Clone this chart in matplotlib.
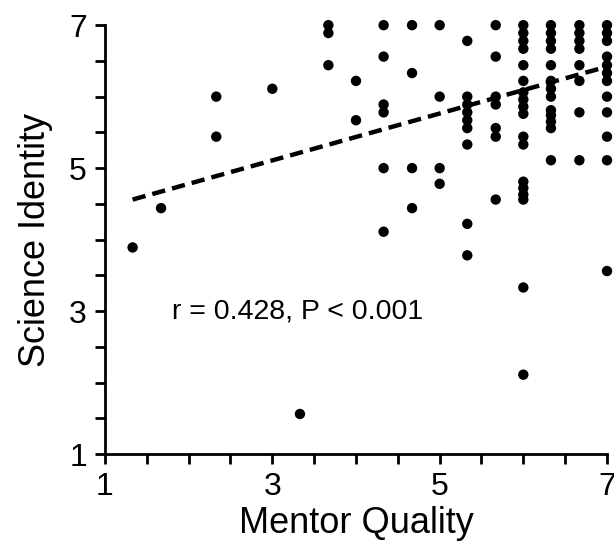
import numpy as np
import matplotlib
matplotlib.use("Agg")
import matplotlib.pyplot as plt

plt.rcParams['font.family'] = ['Liberation Sans', 'DejaVu Sans']

# Mentor Quality (x) -> Science Identity values (y), one list per column
cols = {
    1.33: [3.89],
    1.67: [4.44],
    2.33: [6.0, 5.44],
    3.0: [6.11],
    3.33: [1.56],
    3.67: [7.0, 6.89, 6.44],
    4.0: [6.22, 5.67],
    4.33: [7.0, 6.56, 5.89, 5.78, 5.0, 4.11],
    4.67: [7.0, 6.33, 5.0, 4.44],
    5.0: [7.0, 6.0, 5.0, 4.78],
    5.33: [6.78, 6.0, 5.89, 5.78, 5.67, 5.56, 5.33, 4.22, 3.78],
    5.67: [7.0, 6.56, 6.0, 5.89, 5.56, 5.44, 4.56],
    6.0: [7.0, 6.89, 6.78, 6.67, 6.44, 6.22, 6.06, 5.96, 5.86, 5.76,
          5.44, 5.33, 4.81, 4.72, 4.63, 4.56, 3.33, 2.11],
    6.33: [7.0, 6.89, 6.78, 6.67, 6.44, 6.22, 6.11, 6.0, 5.81, 5.74,
           5.65, 5.56, 5.11],
    6.67: [7.0, 6.89, 6.78, 6.67, 6.44, 6.22, 5.78, 5.11],
    7.0: [7.0, 6.89, 6.78, 6.56, 6.44, 6.33, 6.22, 6.0, 5.78, 5.44,
          5.11, 3.56],
}
mentor = [x for x, ys in cols.items() for _ in ys]
identity = [y for ys in cols.values() for y in ys]

# regression line
fit_x = [1.33, 7.0]
fit_y = [4.56, 6.42]

fig = plt.figure(figsize=(6.14, 5.47), dpi=100)
ax = fig.add_axes([0.171, 0.170, 0.8176, 0.784])

ax.scatter(mentor, identity, s=56, color='black', edgecolors='none',
           clip_on=False, zorder=3)
ax.plot(fit_x, fit_y, color='black', lw=3.2, dashes=(3, 1.6), zorder=2)

ax.text(1.8, 3.0, 'r = 0.428, P < 0.001', fontsize=20.5, va='center', ha='left')

ax.set_xlim(1, 7)
ax.set_ylim(1, 7)
ax.set_xticks([1, 3, 5, 7])
ax.set_yticks([1, 3, 5, 7])
ax.set_xticks(np.arange(1, 7.01, 0.5), minor=True)
ax.set_yticks(np.arange(1, 7.01, 0.5), minor=True)
ax.tick_params(which='both', direction='out', width=2, length=7,
               labelsize=23, pad=6)

for s in ['top', 'right']:
    ax.spines[s].set_visible(False)
for s in ['left', 'bottom']:
    ax.spines[s].set_linewidth(2)

ax.set_xlabel('Mentor Quality', fontsize=26, labelpad=3)
ax.set_ylabel('Science Identity', fontsize=26, labelpad=12)

fig.savefig('out.png', dpi=100)
